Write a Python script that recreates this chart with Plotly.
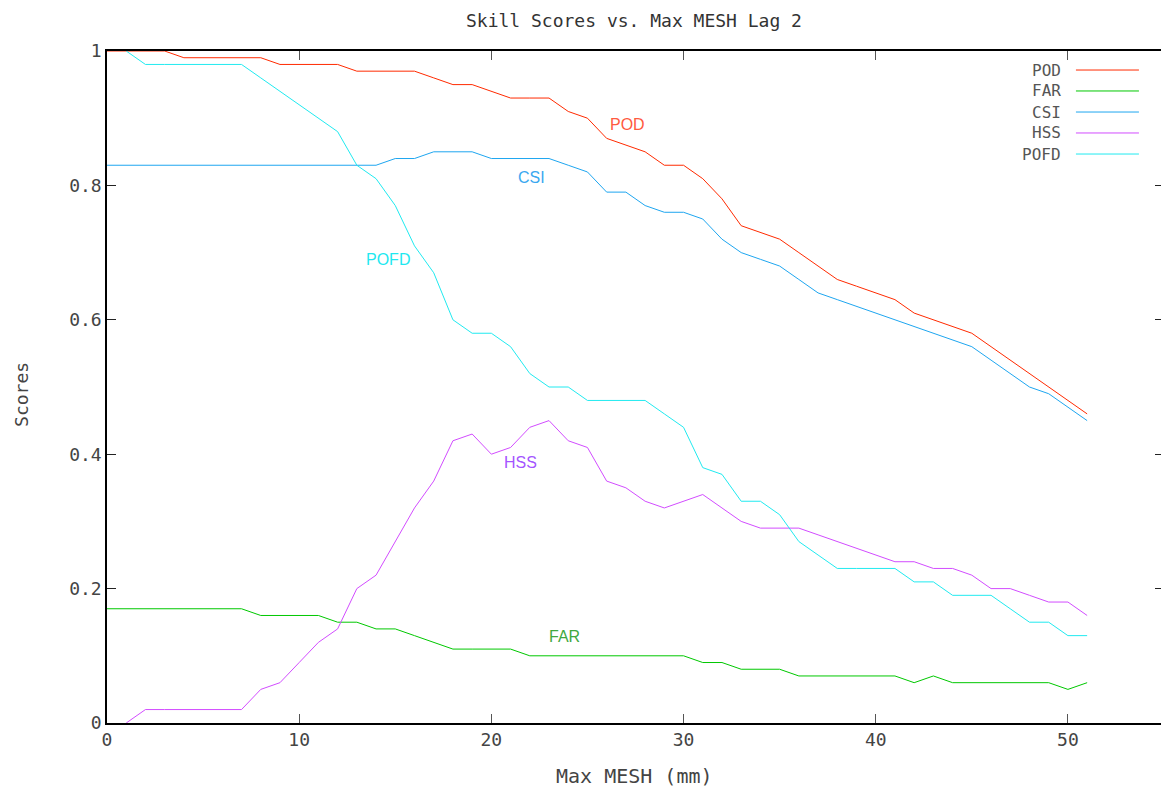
import plotly.graph_objects as go

x_mesh = list(range(0, 52))

pod = [1.0, 1.0, 1.0, 1.0, 0.99, 0.99, 0.99, 0.99, 0.99, 0.98,
       0.98, 0.98, 0.98, 0.97, 0.97, 0.97, 0.97, 0.96, 0.95, 0.95,
       0.94, 0.93, 0.93, 0.93, 0.91, 0.90, 0.87, 0.86, 0.85, 0.83,
       0.83, 0.81, 0.78, 0.74, 0.73, 0.72, 0.70, 0.68, 0.66, 0.65,
       0.64, 0.63, 0.61, 0.60, 0.59, 0.58, 0.56, 0.54, 0.52, 0.50,
       0.48, 0.46]

far = [0.17, 0.17, 0.17, 0.17, 0.17, 0.17, 0.17, 0.17, 0.16, 0.16,
       0.16, 0.16, 0.15, 0.15, 0.14, 0.14, 0.13, 0.12, 0.11, 0.11,
       0.11, 0.11, 0.10, 0.10, 0.10, 0.10, 0.10, 0.10, 0.10, 0.10,
       0.10, 0.09, 0.09, 0.08, 0.08, 0.08, 0.07, 0.07, 0.07, 0.07,
       0.07, 0.07, 0.06, 0.07, 0.06, 0.06, 0.06, 0.06, 0.06, 0.06,
       0.05, 0.06]

csi = [0.83, 0.83, 0.83, 0.83, 0.83, 0.83, 0.83, 0.83, 0.83, 0.83,
       0.83, 0.83, 0.83, 0.83, 0.83, 0.84, 0.84, 0.85, 0.85, 0.85,
       0.84, 0.84, 0.84, 0.84, 0.83, 0.82, 0.79, 0.79, 0.77, 0.76,
       0.76, 0.75, 0.72, 0.70, 0.69, 0.68, 0.66, 0.64, 0.63, 0.62,
       0.61, 0.60, 0.59, 0.58, 0.57, 0.56, 0.54, 0.52, 0.50, 0.49,
       0.47, 0.45]

hss = [None, 0.00, 0.02, 0.02, 0.02, 0.02, 0.02, 0.02, 0.05, 0.06,
       0.09, 0.12, 0.14, 0.20, 0.22, 0.27, 0.32, 0.36, 0.42, 0.43,
       0.40, 0.41, 0.44, 0.45, 0.42, 0.41, 0.36, 0.35, 0.33, 0.32,
       0.33, 0.34, 0.32, 0.30, 0.29, 0.29, 0.29, 0.28, 0.27, 0.26,
       0.25, 0.24, 0.24, 0.23, 0.23, 0.22, 0.20, 0.20, 0.19, 0.18,
       0.18, 0.16]

pofd = [None, 1.00, 0.98, 0.98, 0.98, 0.98, 0.98, 0.98, 0.96, 0.94,
        0.92, 0.90, 0.88, 0.83, 0.81, 0.77, 0.71, 0.67, 0.60, 0.58,
        0.58, 0.56, 0.52, 0.50, 0.50, 0.48, 0.48, 0.48, 0.48, 0.46,
        0.44, 0.38, 0.37, 0.33, 0.33, 0.31, 0.27, 0.25, 0.23, 0.23,
        0.23, 0.23, 0.21, 0.21, 0.19, 0.19, 0.19, 0.17, 0.15, 0.15,
        0.13, 0.13]

series_names = ["POD", "FAR", "CSI", "HSS", "POFD"]
series_values = [pod, far, csi, hss, pofd]
line_colors = ["#ff2a00", "#00c800", "#1ea6f0", "#d24cff", "#20eaf0"]
label_colors = ["#ff5a40", "#40a840", "#3aa8f0", "#a455ff", "#20e8f0"]
label_x = [27.1, 23.8, 22.1, 21.5, 14.6]
label_y = [0.89, 0.128, 0.812, 0.387, 0.689]

mono = "DejaVu Sans Mono"
grey = "#444444"

fig = go.Figure()
for name, vals, col in zip(series_names, series_values, line_colors):
    fig.add_trace(go.Scatter(x=x_mesh, y=vals, mode="lines", name=name,
                             line=dict(color=col, width=1), connectgaps=False,
                             showlegend=False))

annotations = []
for name, lx, ly, lc in zip(series_names, label_x, label_y, label_colors):
    annotations.append(dict(x=lx, y=ly, xref="x", yref="y", text=name,
                            showarrow=False, font=dict(family="Liberation Sans", size=16, color=lc)))

# custom gnuplot-style key (text then line sample)
shapes = []
key_rows = [0.9717, 0.9405, 0.9092, 0.878, 0.8467]
for name, col, ry in zip(series_names, line_colors, key_rows):
    annotations.append(dict(x=0.9035, y=ry, xref="paper", yref="paper", text=name,
                            xanchor="right", yanchor="middle", showarrow=False,
                            borderpad=0,
                            font=dict(family=mono, size=16, color="#555555")))
    shapes.append(dict(type="line", xref="paper", yref="paper",
                       x0=0.9167, x1=0.9763, y0=ry, y1=ry,
                       line=dict(color=col, width=1)))

# title and axis titles
annotations.append(dict(x=0.4986, y=1.046, xref="paper", yref="paper",
                        text="Skill Scores vs. Max MESH Lag 2", showarrow=False,
                        xanchor="center", yanchor="middle", borderpad=0,
                        font=dict(family=mono, size=18, color="#333333")))
annotations.append(dict(x=0.4986, y=-0.0789, xref="paper", yref="paper",
                        text="Max MESH (mm)", showarrow=False,
                        xanchor="center", yanchor="middle",
                        font=dict(family=mono, size=20, color=grey)))
annotations.append(dict(x=-0.0805, y=0.4896, xref="paper", yref="paper",
                        text="Scores", showarrow=False, textangle=-90,
                        xanchor="center", yanchor="middle", borderpad=0,
                        font=dict(family=mono, size=18, color=grey)))

fig.update_layout(
    width=1161, height=785,
    margin=dict(l=99, r=5, t=43, b=70),
    paper_bgcolor="white", plot_bgcolor="white",
    annotations=annotations,
    shapes=shapes,
    showlegend=False,
)
fig.update_xaxes(range=[0, 55], tickvals=[0, 10, 20, 30, 40, 50],
                 ticks="inside", ticklen=9, tickcolor="#555555", mirror="allticks",
                 showline=True, linecolor="black", linewidth=1.5,
                 showgrid=False, zeroline=False, automargin=False,
                 tickfont=dict(family=mono, size=18, color=grey))
fig.update_yaxes(range=[0, 1], tickvals=[0, 0.2, 0.4, 0.6, 0.8, 1],
                 ticktext=["0", "0.2", "0.4", "0.6", "0.8", "1"],
                 ticks="inside", ticklen=9, tickcolor="#222222", mirror="allticks",
                 showline=True, linecolor="black", linewidth=1.5,
                 showgrid=False, zeroline=False, automargin=False,
                 tickfont=dict(family=mono, size=18, color=grey))

fig.write_html("out.html")
